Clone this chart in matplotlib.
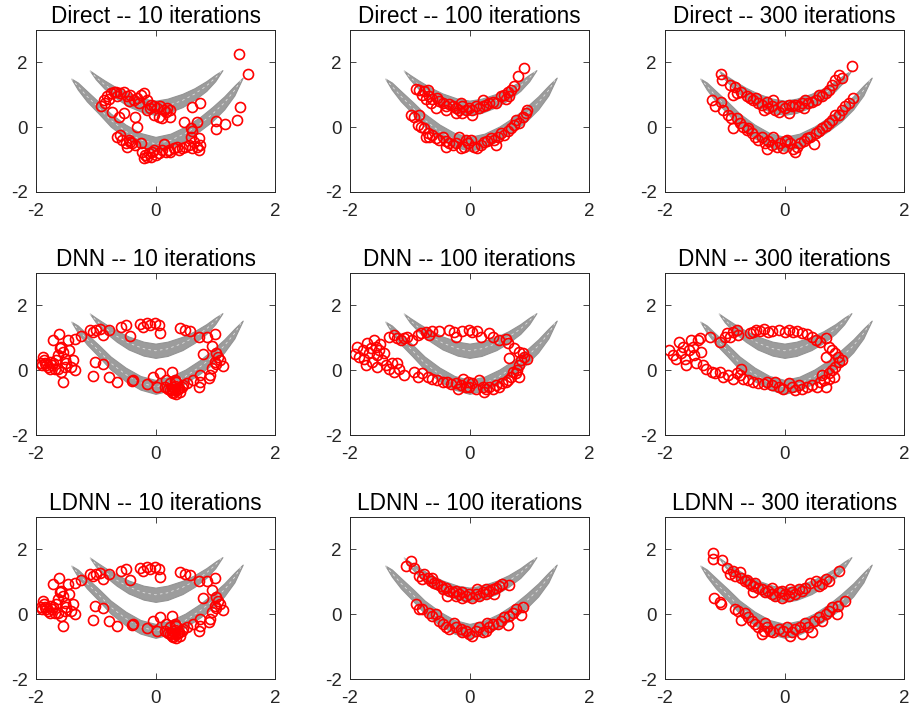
import numpy as np
import matplotlib.pyplot as plt

plt.rcParams['font.family'] = ['Liberation Sans', 'DejaVu Sans']
plt.rcParams['axes.unicode_minus'] = False

# target density, two banana shaped bands (edges)
upper_x = [-1.10, -1.00, -0.85, -0.65, -0.45, -0.20, 0.0, 0.20, 0.45, 0.65, 0.85, 1.00, 1.12]
upper_top = [1.75, 1.62, 1.44, 1.22, 1.04, 0.88, 0.82, 0.88, 1.03, 1.20, 1.42, 1.62, 1.76]
upper_bot = [1.75, 1.48, 1.18, 0.88, 0.64, 0.45, 0.38, 0.44, 0.62, 0.84, 1.12, 1.42, 1.76]

lower_x = [-1.41, -1.30, -1.15, -0.95, -0.75, -0.50, -0.25, 0.0, 0.25, 0.50, 0.75, 0.95, 1.15, 1.32, 1.46]
lower_top = [1.50, 1.38, 1.12, 0.78, 0.42, 0.08, -0.18, -0.30, -0.20, 0.02, 0.32, 0.62, 0.95, 1.28, 1.53]
lower_bot = [1.50, 1.16, 0.80, 0.42, 0.02, -0.34, -0.60, -0.73, -0.62, -0.40, -0.10, 0.18, 0.55, 0.98, 1.53]

titles = ['Direct -- 10 iterations', 'Direct -- 100 iterations', 'Direct -- 300 iterations',
          'DNN -- 10 iterations', 'DNN -- 100 iterations', 'DNN -- 300 iterations',
          'LDNN -- 10 iterations', 'LDNN -- 100 iterations', 'LDNN -- 300 iterations']
ticks = [-2, 0, 2]

# particle positions (x, y) for every panel
direct10 = [
    (-0.92, 0.64), (-0.87, 0.85), (-0.81, 0.95), (-0.75, 1.05), (-0.70, 1.10), (-0.64, 0.95), (-0.59, 1.05),
    (-0.53, 1.10), (-0.47, 0.95), (-0.42, 1.00), (-0.36, 0.85), (-0.31, 0.90), (-0.25, 1.00), (-0.20, 1.05),
    (-0.14, 0.85), (-0.08, 0.69), (-0.03, 0.64), (0.03, 0.59), (0.08, 0.64), (0.14, 0.54), (0.20, 0.59),
    (0.25, 0.54), (-0.73, 0.48), (-0.61, 0.33), (-0.53, 0.43), (-0.34, 0.33), (-0.31, 0.02), (-0.14, 0.54),
    (-0.03, 0.38), (0.06, 0.33), (0.11, 0.28), (0.25, 0.33), (-0.85, 0.75), (-0.78, 0.88), (-0.66, 1.08),
    (-0.45, 0.80), (-0.28, 0.75), (-0.10, 0.60), (0.18, 0.48),
    (1.39, 2.26), (1.54, 1.65), (1.42, 0.62), (1.36, 0.23), (1.17, 0.10), (1.01, 0.18), (1.02, -0.06),
    (0.74, 0.76), (0.61, 0.62), (0.69, 0.15), (0.47, 0.15), (0.59, -0.03), (0.61, -0.13),
    (-0.59, -0.24), (-0.56, -0.39), (-0.50, -0.49), (-0.45, -0.39), (-0.39, -0.49), (-0.34, -0.55),
    (-0.25, -0.49), (-0.22, -0.75), (-0.17, -0.86), (-0.11, -0.80), (-0.06, -0.75), (0.00, -0.86),
    (0.06, -0.80), (0.11, -0.70), (0.17, -0.75), (0.22, -0.70), (0.31, -0.65), (0.36, -0.60), (0.45, -0.65),
    (0.50, -0.60), (0.56, -0.55), (0.61, -0.65), (0.70, -0.60), (0.73, -0.70), (0.75, -0.55), (0.73, -0.34),
    (0.59, -0.29), (0.14, -0.52), (-0.14, -0.91), (-0.20, -0.96), (-0.08, -0.93), (0.25, -0.78),
    (-0.64, -0.31), (-0.47, -0.60), (-0.02, -0.70), (0.40, -0.70), (0.65, -0.45), (-0.42, -0.45),
]

direct100 = [
    (-0.90, 1.18), (-0.84, 1.15), (-0.76, 1.13), (-0.70, 1.15), (-0.79, 1.00), (-0.73, 0.87), (-0.68, 0.95),
    (-0.62, 0.87), (-0.54, 0.90), (-0.51, 0.82), (-0.45, 0.74), (-0.40, 0.66), (-0.34, 0.72), (-0.28, 0.66),
    (-0.23, 0.59), (-0.17, 0.54), (-0.12, 0.64), (-0.06, 0.54), (-0.01, 0.59), (0.05, 0.54), (0.11, 0.66),
    (0.16, 0.59), (0.22, 0.64), (0.27, 0.69), (0.33, 0.74), (0.39, 0.79), (0.44, 0.74), (0.53, 0.95),
    (0.58, 1.00), (0.64, 1.10), (0.69, 1.15), (0.75, 1.28), (0.82, 1.57), (0.92, 1.82), (0.61, 0.87),
    (0.66, 0.95), (-0.40, 0.54), (-0.23, 0.43), (-0.12, 0.45), (0.05, 0.38), (-0.56, 0.59), (-0.65, 0.74),
    (-0.15, 0.76), (0.22, 0.85),
    (-0.98, 0.38), (-0.93, 0.33), (-0.84, 0.38), (-0.76, -0.03), (-0.70, -0.19), (-0.68, -0.29),
    (-0.62, -0.24), (-0.56, -0.34), (-0.51, -0.39), (-0.45, -0.29), (-0.40, -0.44), (-0.34, -0.49),
    (-0.28, -0.55), (-0.23, -0.49), (-0.17, -0.29), (-0.15, -0.65), (-0.09, -0.60), (-0.03, -0.49),
    (0.02, -0.39), (0.08, -0.60), (0.13, -0.65), (0.19, -0.55), (0.25, -0.47), (0.30, -0.44), (0.36, -0.34),
    (0.41, -0.39), (0.47, -0.29), (0.53, -0.19), (0.58, -0.24), (0.64, -0.13), (0.69, -0.03), (0.75, 0.07),
    (0.78, 0.23), (0.83, 0.12), (0.89, 0.33), (0.94, 0.43), (0.97, 0.54), (-0.82, 0.02), (-0.87, 0.07),
    (-0.06, -0.39), (-0.73, -0.31), (-0.40, -0.60), (0.44, -0.55),
]

direct300 = [
    (-1.06, 1.65), (-1.04, 1.46), (-0.92, 1.31), (-0.83, 1.24), (-0.80, 1.05), (-0.72, 1.10), (-0.63, 0.95),
    (-0.58, 0.90), (-0.52, 0.85), (-0.47, 0.90), (-0.44, 0.74), (-0.38, 0.69), (-0.30, 0.79), (-0.27, 0.59),
    (-0.21, 0.64), (-0.16, 0.54), (-0.10, 0.48), (-0.04, 0.64), (0.01, 0.59), (0.07, 0.43), (0.12, 0.64),
    (0.18, 0.69), (0.24, 0.64), (0.29, 0.74), (0.35, 0.85), (0.40, 0.74), (0.46, 0.79), (0.52, 0.85),
    (0.57, 1.00), (0.63, 0.95), (0.69, 1.05), (0.74, 1.15), (0.80, 1.31), (0.85, 1.46), (0.91, 1.62),
    (0.97, 1.52), (1.13, 1.88), (-0.35, 0.54), (-0.19, 0.85), (0.07, 0.69), (0.32, 0.59), (-0.86, 1.00),
    (-1.22, 0.85), (-1.17, 0.64), (-1.07, 0.79), (-1.03, 0.54), (-0.94, 0.38), (-0.89, 0.28), (-0.86, -0.03),
    (-0.80, 0.28), (-0.75, 0.12), (-0.69, 0.02), (-0.63, -0.08), (-0.61, -0.03), (-0.55, -0.19),
    (-0.49, -0.29), (-0.44, -0.39), (-0.38, -0.29), (-0.33, -0.49), (-0.27, -0.44), (-0.21, -0.55),
    (-0.19, -0.29), (-0.30, -0.68), (-0.13, -0.60), (-0.07, -0.49), (-0.02, -0.65), (0.04, -0.39),
    (0.10, -0.49), (0.15, -0.68), (0.21, -0.60), (0.26, -0.49), (0.32, -0.44), (0.38, -0.34), (0.43, -0.29),
    (0.49, -0.52), (0.52, -0.19), (0.57, -0.13), (0.63, -0.03), (0.69, 0.04), (0.74, 0.12), (0.80, 0.23),
    (0.85, 0.38), (0.91, 0.38), (0.97, 0.54), (1.02, 0.64), (1.08, 0.74), (1.15, 0.90), (0.18, -0.75),
    (0.01, -0.44),
]

dnn10 = [
    (-1.88, 0.41), (-1.85, 0.21), (-1.83, 0.16), (-1.80, 0.10), (-1.77, 0.26), (-1.74, 0.16), (-1.72, 0.21),
    (-1.69, 0.05), (-1.66, 0.31), (-1.63, 0.47), (-1.72, 0.93), (-1.61, 1.12), (-1.60, 0.67), (-1.58, 0.73),
    (-1.55, 0.57), (-1.52, 0.36), (-1.58, -0.05), (-1.55, -0.36), (-1.49, 0.21), (-1.44, 0.62), (-1.41, 0.10),
    (-1.38, 0.31), (-1.35, 0.00), (-1.46, 0.93), (-1.35, 0.97), (-1.24, 1.06), (-1.63, 0.05), (-1.52, 0.10),
    (-1.77, 0.05), (-1.92, 0.23), (-1.90, 0.15), (-1.86, 0.30),
    (-1.10, 1.24), (-1.04, 1.19), (-0.99, 1.24), (-0.93, 1.26), (-0.88, 1.09), (-0.77, 1.24), (-0.57, 1.33),
    (-0.49, 1.40), (-0.43, 1.06), (-0.26, 1.43), (-0.15, 1.45), (-0.09, 1.40), (-0.01, 1.45), (0.06, 1.40),
    (0.07, 1.16), (-0.21, 1.33), (0.41, 1.30), (0.49, 1.24), (0.58, 1.22), (0.72, 1.04), (0.87, 1.04),
    (1.00, 1.12), (0.94, 0.75), (0.80, 0.50), (1.02, 0.54), (1.05, 0.41), (1.00, 0.26), (1.08, 0.33),
    (1.02, 0.19), (1.13, 0.12), (0.94, 0.08), (0.92, -0.16), (0.90, -0.23), (0.74, -0.16), (0.74, -0.36),
    (0.73, -0.52), (0.63, -0.31), (0.52, -0.41),
    (-1.02, 0.26), (-1.04, -0.19), (-0.88, 0.19), (-0.77, -0.21), (-0.65, -0.36), (-0.40, -0.33),
    (-0.37, -0.31), (-0.15, -0.44), (-0.05, -0.21), (0.02, -0.52), (0.07, -0.10), (0.18, -0.31),
    (0.24, -0.41), (0.27, -0.05), (0.30, -0.52), (0.32, -0.62), (0.35, -0.36), (0.38, -0.57), (0.41, -0.67),
    (0.44, -0.52), (0.46, -0.47), (0.21, -0.57), (0.16, -0.52), (0.27, -0.67), (0.35, -0.73), (0.32, -0.29),
    (0.25, -0.60), (0.30, -0.70), (0.36, -0.62), (0.40, -0.55), (0.33, -0.48), (0.28, -0.58),
]

dnn100 = [
    (-1.88, 0.73), (-1.91, 0.50), (-1.85, 0.41), (-1.79, 0.62), (-1.77, 0.36), (-1.71, 0.83), (-1.68, 0.52),
    (-1.65, 0.67), (-1.60, 0.93), (-1.57, 0.73), (-1.54, 0.47), (-1.51, 0.62), (-1.49, 0.81), (-1.46, 0.31),
    (-1.43, 0.52), (-1.40, 0.16), (-1.35, 0.05), (-1.29, 0.21), (-1.26, -0.05), (-1.21, 0.21), (-1.18, 0.05),
    (-1.10, -0.16), (-1.54, 0.10), (-1.63, 0.26), (-1.74, 0.16),
    (-1.35, 1.04), (-1.26, 1.09), (-1.21, 0.98), (-1.15, 0.93), (-1.10, 0.98), (-1.04, 1.04), (-0.96, 0.93),
    (-0.87, 1.09), (-0.82, 1.14), (-0.73, 1.19), (-0.68, 1.09), (-0.62, 1.22), (-0.51, 1.22), (-0.34, 1.24),
    (-0.26, 1.19), (-0.23, 1.04), (-0.12, 1.22), (-0.01, 1.24), (0.05, 1.19), (0.13, 1.22), (0.19, 1.02),
    (0.33, 1.14), (0.39, 1.04), (0.50, 0.93), (0.61, 0.95), (0.64, 0.83), (0.75, 0.67), (0.83, 0.57),
    (0.89, 0.52), (0.92, 0.41), (0.97, 0.36), (0.86, 0.31), (0.66, 0.39), (0.83, 0.16), (0.80, 0.00),
    (0.78, -0.10), (0.83, -0.21), (0.72, -0.05), (0.64, -0.31),
    (-0.93, -0.05), (-0.87, -0.21), (-0.79, -0.10), (-0.70, -0.21), (-0.62, -0.26), (-0.54, -0.31),
    (-0.45, -0.36), (-0.37, -0.36), (-0.31, -0.44), (-0.23, -0.41), (-0.15, -0.47), (-0.11, -0.26),
    (-0.06, -0.52), (-0.01, -0.52), (0.05, -0.41), (0.11, -0.57), (0.16, -0.31), (0.22, -0.52),
    (0.27, -0.57), (0.33, -0.52), (0.39, -0.57), (0.44, -0.47), (0.50, -0.52), (0.55, -0.41), (0.61, -0.36),
    (0.69, -0.21), (-0.20, -0.57), (0.25, -0.67), (-0.03, -0.36),
]

dnn300 = [
    (-1.93, 0.62), (-1.87, 0.47), (-1.81, 0.36), (-1.76, 0.88), (-1.73, 0.52), (-1.70, 0.73), (-1.67, 0.36),
    (-1.65, 0.16), (-1.59, 0.62), (-1.56, 0.93), (-1.53, 0.73), (-1.51, 0.47), (-1.48, 0.21), (-1.45, 0.93),
    (-1.42, 0.98), (-1.39, 0.57), (-1.37, 0.16), (-1.31, 0.05), (-1.25, 1.04), (-1.22, -0.05), (-1.17, -0.10),
    (-1.08, -0.05), (-1.08, 0.88), (-1.00, 1.04), (-0.97, 1.14), (-0.92, 1.04), (-0.86, 1.19), (-0.80, 1.24),
    (-0.78, 1.09),
    (-0.58, 1.14), (-0.52, 1.19), (-0.47, 1.24), (-0.41, 1.22), (-0.35, 1.26), (-0.27, 1.19), (-0.21, 1.22),
    (-0.10, 1.24), (0.01, 1.19), (0.07, 1.24), (0.15, 1.19), (0.21, 1.22), (0.29, 1.14), (0.38, 1.12),
    (0.46, 1.04), (0.52, 0.93), (0.60, 0.88), (0.69, 0.98), (0.74, 0.73), (0.80, 0.62), (0.85, 0.52),
    (0.90, 0.41), (0.91, 0.26), (0.97, 0.31), (0.85, 0.10), (0.83, -0.21), (0.69, 0.41), (0.74, -0.10),
    (-1.03, -0.21), (-0.94, -0.16), (-0.86, -0.26), (-0.75, -0.16), (-0.69, -0.26), (-0.61, -0.31),
    (-0.52, -0.36), (-0.44, -0.39), (-0.35, -0.44), (-0.30, -0.36), (-0.21, -0.47), (-0.16, -0.36),
    (-0.10, -0.52), (-0.02, -0.57), (0.07, -0.41), (0.12, -0.52), (0.18, -0.60), (0.24, -0.47), (0.29, -0.57),
    (0.38, -0.52), (0.46, -0.47), (0.54, -0.52), (0.60, -0.36), (0.66, -0.31), (0.69, -0.52), (0.63, -0.16),
    (0.74, -0.26), (0.79, 0.00), (-0.72, 0.05), (-0.80, -0.10),
]

# the LDNN run after 10 iterations sits on the same points as the DNN run
ldnn10 = list(dnn10)

ldnn100 = [
    (-1.07, 1.49), (-0.98, 1.64), (-0.93, 1.42), (-0.84, 1.18), (-0.79, 1.08), (-0.76, 1.23), (-0.70, 1.13),
    (-0.62, 1.13), (-0.59, 0.97), (-0.54, 0.92), (-0.48, 0.87), (-0.45, 0.77), (-0.40, 0.82), (-0.37, 0.56),
    (-0.34, 0.72), (-0.28, 0.67), (-0.23, 0.72), (-0.17, 0.62), (-0.12, 0.67), (-0.06, 0.56), (-0.01, 0.62),
    (0.05, 0.51), (0.11, 0.62), (0.16, 0.56), (0.22, 0.67), (0.27, 0.62), (0.33, 0.72), (0.39, 0.77),
    (0.44, 0.82), (0.50, 0.87), (0.54, 0.94), (0.66, 0.90), (-0.23, 0.56), (0.13, 0.77), (-0.12, 0.51),
    (-0.65, 1.03), (0.27, 0.77), (0.41, 0.62),
    (-0.90, 0.31), (-0.84, 0.15), (-0.79, 0.15), (-0.68, 0.05), (-0.62, -0.05), (-0.56, 0.00), (-0.51, -0.21),
    (-0.45, -0.31), (-0.40, -0.41), (-0.34, -0.46), (-0.26, -0.26), (-0.23, -0.41), (-0.15, -0.46),
    (-0.06, -0.51), (-0.01, -0.62), (0.05, -0.67), (0.11, -0.51), (0.16, -0.41), (0.22, -0.56), (0.30, -0.26),
    (0.33, -0.41), (0.39, -0.31), (0.47, -0.31), (0.53, -0.21), (0.58, -0.10), (0.64, -0.33), (0.66, -0.05),
    (0.72, 0.05), (0.78, 0.15), (0.86, -0.02), (0.89, 0.23), (-0.12, -0.56), (0.27, -0.51),
]

ldnn300 = [
    (-1.20, 1.90), (-1.20, 1.69), (-1.04, 1.66), (-0.97, 1.42), (-0.92, 1.23), (-0.86, 1.33), (-0.83, 1.18),
    (-0.75, 1.31), (-0.72, 1.13), (-0.66, 1.03), (-0.63, 1.05), (-0.58, 0.92), (-0.52, 0.87), (-0.49, 0.97),
    (-0.44, 0.82), (-0.38, 0.77), (-0.33, 0.67), (-0.27, 0.72), (-0.21, 0.62), (-0.16, 0.56), (-0.10, 0.67),
    (-0.04, 0.51), (0.01, 0.62), (0.07, 0.56), (0.12, 0.67), (0.18, 0.62), (0.24, 0.77), (0.29, 0.72),
    (0.35, 0.82), (0.43, 0.97), (0.52, 1.03), (0.57, 0.87), (0.63, 0.92), (0.69, 1.08), (0.74, 1.03),
    (0.92, 1.33), (-0.52, 0.67), (-0.21, 0.82), (0.10, 0.77), (-0.04, 0.72),
    (-1.18, 0.49), (-1.08, 0.39), (-1.06, 0.31), (-0.83, 0.15), (-0.78, 0.10), (-0.72, -0.18), (-0.66, 0.05),
    (-0.61, -0.10), (-0.55, -0.21), (-0.49, -0.31), (-0.44, -0.41), (-0.38, -0.62), (-0.35, -0.51),
    (-0.30, -0.41), (-0.24, -0.51), (-0.19, -0.56), (-0.10, -0.46), (-0.02, -0.51), (0.04, -0.41),
    (0.10, -0.67), (0.12, -0.56), (0.18, -0.46), (0.26, -0.41), (0.35, -0.26), (0.40, -0.41), (0.46, -0.56),
    (0.49, -0.21), (0.57, -0.10), (0.63, -0.21), (0.69, 0.00), (0.74, 0.10), (0.80, 0.21), (0.88, 0.02),
    (0.90, 0.26), (1.02, 0.41), (-0.33, -0.26), (0.29, -0.62),
]

panels = [direct10, direct100, direct300, dnn10, dnn100, dnn300, ldnn10, ldnn100, ldnn300]
bands = [(upper_x, upper_top, upper_bot), (lower_x, lower_top, lower_bot)]

W, H = 911, 710
col_left = [36, 350, 665]
row_top = [30, 273, 517]
ax_w, ax_h = 239, 162

fig = plt.figure(figsize=(W / 100, H / 100), dpi=100)

for k, pts in enumerate(panels):
    r, c = divmod(k, 3)
    ax = fig.add_axes([col_left[c] / W, 1 - (row_top[r] + ax_h) / H, ax_w / W, ax_h / H])

    for bx, bt, bb in bands:
        ax.fill_between(bx, bb, bt, color='#9c9c9c', lw=0.8, edgecolor='#939393')
        mid = (np.array(bt) + np.array(bb)) / 2
        ax.plot(bx, mid, color='white', lw=0.6, ls=(0, (3, 4)), alpha=0.7)

    pts = np.array(pts)
    ax.plot(pts[:, 0], pts[:, 1], 'o', mfc='none', mec='red', ms=7.2, mew=1.2)

    ax.set_xlim(-2, 2)
    ax.set_ylim(-2, 3)
    ax.set_xticks(ticks)
    ax.set_yticks(ticks)
    ax.tick_params(direction='in', length=4, width=0.6, top=True, right=True,
                   labelsize=13.5, colors='#262626')
    ax.tick_params(axis='x', pad=8)
    ax.tick_params(axis='y', pad=6)
    for s in ax.spines.values():
        s.set_color('#262626')
        s.set_linewidth(0.7)
    ax.set_title(titles[k], fontsize=16.3, pad=5)

fig.savefig('out.png', dpi=100)
